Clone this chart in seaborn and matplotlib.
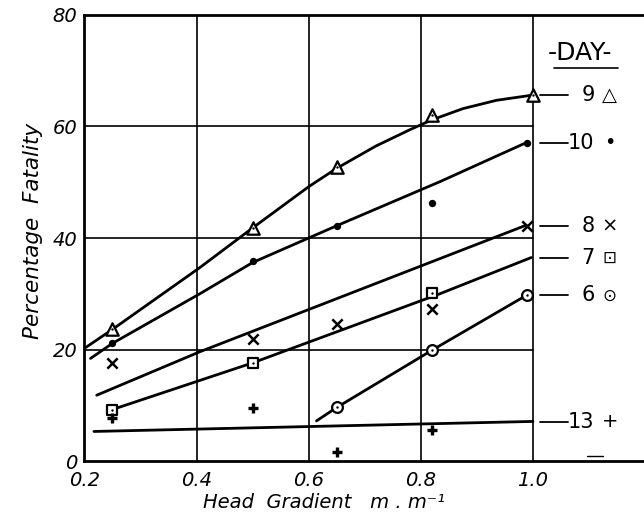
import matplotlib
matplotlib.use("Agg")
import matplotlib.pyplot as plt
import seaborn as sns

# ---------------- data ----------------
# observed points
day9_x = [0.25, 0.50, 0.65, 0.82, 1.00]
day9_y = [23.6, 41.8, 52.8, 62.1, 65.6]
day10_x = [0.25, 0.50, 0.65, 0.82, 0.99]
day10_y = [21.1, 35.9, 42.2, 46.2, 57.1]
day8_x = [0.25, 0.50, 0.65, 0.82, 0.99]
day8_y = [17.5, 21.8, 24.6, 27.2, 42.2]
day7_x = [0.25, 0.50, 0.82]
day7_y = [9.1, 17.5, 30.1]
day6_x = [0.65, 0.82, 0.99]
day6_y = [9.6, 20.0, 29.7]
day13_x = [0.25, 0.50, 0.65, 0.82]
day13_y = [7.7, 9.5, 1.7, 5.6]

# fitted curves
fit9_x = [0.200, 0.250, 0.406, 0.500, 0.600, 0.650, 0.720, 0.780, 0.820, 0.875, 0.935, 0.997]
fit9_y = [20.2, 23.6, 34.7, 41.8, 49.2, 52.5, 56.5, 59.4, 61.2, 63.2, 64.7, 65.6]
fit10_x = [0.211, 0.250, 0.406, 0.500, 0.650, 0.834, 0.988]
fit10_y = [18.4, 21.1, 30.0, 35.6, 42.2, 50.1, 57.1]
fit8_x = [0.222, 0.406, 0.834, 0.988]
fit8_y = [11.8, 19.6, 36.3, 42.3]
fit7_x = [0.246, 0.500, 0.834, 0.997]
fit7_y = [9.1, 17.6, 30.0, 36.5]
fit6_x = [0.614, 0.650, 0.822, 0.988]
fit6_y = [7.2, 9.6, 20.0, 29.7]
fit13_x = [0.217, 1.000]
fit13_y = [5.3, 7.1]

x_ticks = [0.2, 0.4, 0.6, 0.8, 1.0]
x_tick_labels = ["0.2", "0.4", "0.6", "0.8", "1.0"]
y_ticks = [0, 20, 40, 60, 80]
y_tick_labels = ["0", "20", "40", "60", "80"]

legend_days = ["9", "10", "8", "7", "6", "13"]
legend_symbols = ["\u25B3", "\u2022", "\u00D7", "\u22A1", "\u2299", "+"]
legend_y = [65.6, 57.1, 42.2, 36.4, 29.7, 7.0]
legend_symbol_sizes = [14, 14, 14, 12, 12, 14]

# ---------------- figure ----------------
sns.set_style("white")
plt.rcParams["font.family"] = ["DejaVu Sans"]
plt.rcParams["text.color"] = "black"
plt.rcParams["axes.labelcolor"] = "black"
plt.rcParams["xtick.color"] = "black"
plt.rcParams["ytick.color"] = "black"

fig = plt.figure(figsize=(6.44, 5.17), dpi=100)
ax = fig.add_axes([0.131, 0.1083, 0.869, 0.8627])
ax.set_xlim(0.2, 1.198)
ax.set_ylim(0, 80)

# grid only inside the 0.2-1.0 area
for yv in y_ticks[1:-1]:
    ax.plot([0.2, 1.0], [yv, yv], color="black", lw=1.2, zorder=1)
for xv in x_ticks[1:]:
    ax.plot([xv, xv], [0, 80], color="black", lw=1.2, zorder=1)

# fitted curves
fits = [(fit9_x, fit9_y), (fit10_x, fit10_y), (fit8_x, fit8_y),
        (fit7_x, fit7_y), (fit6_x, fit6_y), (fit13_x, fit13_y)]
for fx, fy in fits:
    sns.lineplot(x=fx, y=fy, ax=ax, color="black", lw=2.0, sort=False,
                 estimator=None, zorder=3)

# observed points
def open_pts(xs, ys, marker, s):
    sns.scatterplot(x=xs, y=ys, ax=ax, marker=marker, s=s, facecolor="white",
                    edgecolor="black", linewidth=1.6, zorder=5)
    sns.scatterplot(x=xs, y=ys, ax=ax, marker="o", s=3, color="black",
                    edgecolor="black", linewidth=0, zorder=6)

open_pts(day9_x, day9_y, "^", 80)
open_pts(day7_x, day7_y, "s", 55)
open_pts(day6_x, day6_y, "o", 60)
sns.scatterplot(x=day10_x, y=day10_y, ax=ax, marker="o", s=28, color="black",
                edgecolor="black", linewidth=0, zorder=5)
sns.scatterplot(x=day8_x, y=day8_y, ax=ax, marker="x", s=55, color="black",
                linewidth=1.8, zorder=5)
sns.scatterplot(x=day13_x, y=day13_y, ax=ax, marker="+", s=45, color="black",
                linewidth=2.4, zorder=5)

# axes styling
for side in ["left", "bottom", "top"]:
    ax.spines[side].set_linewidth(2.0)
    ax.spines[side].set_color("black")
ax.spines["right"].set_visible(False)
ax.set_xticks(x_ticks)
ax.set_xticklabels(x_tick_labels, fontsize=14, style="italic")
ax.set_yticks(y_ticks)
ax.set_yticklabels(y_tick_labels, fontsize=14, style="italic")
ax.tick_params(axis="both", length=0, labelcolor="black")
ax.tick_params(axis="x", pad=7)
ax.tick_params(axis="y", pad=5)

ax.set_ylabel("Percentage  Fatality", fontsize=15.5, style="italic", color="black")
ax.yaxis.set_label_coords(-0.074, 0.515)
ax.set_xlabel("Head  Gradient   m . m\u207B\u00B9", fontsize=14, style="italic",
              color="black")
ax.xaxis.set_label_coords(0.428, -0.072)

# right-hand "legend"
ax.text(1.084, 73.2, "-DAY-", fontsize=18, ha="center", va="center", color="black")
ax.plot([1.037, 1.151], [70.5, 70.5], color="black", lw=1.2)
for d, sym, yv, fs in zip(legend_days, legend_symbols, legend_y, legend_symbol_sizes):
    ax.plot([1.013, 1.063], [yv, yv], color="black", lw=1.3)
    ax.text(1.110, yv, d, fontsize=15, ha="right", va="center", color="black")
    ax.text(1.137, yv, sym, fontsize=fs, ha="center", va="center", color="black")
ax.plot([1.096, 1.125], [0.95, 0.95], color="black", lw=1.0)

fig.savefig("out.png", dpi=100)
